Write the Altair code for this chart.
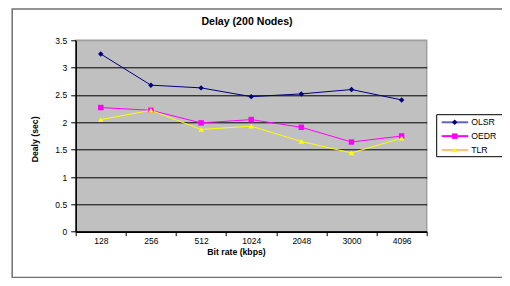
import altair as alt
import pandas as pd

rates = ["128", "256", "512", "1024", "2048", "3000", "4096"]
series = ["OLSR", "OEDR", "TLR"]
olsr = [3.25, 2.68, 2.63, 2.47, 2.52, 2.60, 2.41]
oedr = [2.27, 2.22, 1.99, 2.05, 1.91, 1.64, 1.75]
tlr = [2.05, 2.22, 1.87, 1.93, 1.65, 1.44, 1.71]
legend_labels = ["OLSR", "OEDR", "\u00a0TLR"]
y_ticks = [0, 0.5, 1, 1.5, 2, 2.5, 3, 3.5]

marker_colors = ["#000080", "#FF00FF", "#FFFF00"]
legend_line_colors = ["#6464B4", "#FF00FF", "#FFC080"]
shapes = ["diamond", "square", "triangle-up"]

rows = []
for name, vals in zip(series, [olsr, oedr, tlr]):
    for r, v in zip(rates, vals):
        rows.append({"rate": r, "series": name, "delay": v})
df = pd.DataFrame(rows)
leg_df = pd.DataFrame({"series": series, "label": legend_labels})

FONT = "Liberation Sans"

x_enc = alt.X(
    "rate:N",
    sort=rates,
    bandPosition=0.5,
    scale=alt.Scale(type="band", paddingInner=0, paddingOuter=0),
    axis=alt.Axis(
        title="Bit rate (kbps)",
        labelAngle=0,
        tickBand="extent",
        tickSize=4,
        tickColor="black",
        domainColor="black",
        domainWidth=1.5,
        labelFont=FONT,
        labelFontSize=8.5,
        labelColor="black",
        labelBaseline="alphabetic",
        labelPadding=7.7,
        titleFont=FONT,
        titleFontSize=8.7,
        titleFontWeight="bold",
        titleColor="black",
        titleX=160.3,
        titleY=23.2,
        titleBaseline="alphabetic",
        grid=False,
    ),
)
y_enc = alt.Y(
    "delay:Q",
    scale=alt.Scale(domain=[0, 3.5], nice=False, zero=True),
    axis=alt.Axis(
        title="Dealy (sec)",
        values=y_ticks,
        format="~g",
        tickSize=5,
        tickColor="black",
        domainColor="black",
        domainWidth=1.5,
        labelFont=FONT,
        labelFontSize=8.5,
        labelColor="black",
        labelPadding=4,
        gridColor={"condition": {"test": "datum.value >= 3.5", "value": "#A0A0A0"}, "value": "black"},
        gridWidth=1,
        titleFont=FONT,
        titleFontSize=8.7,
        titleFontWeight="bold",
        titleColor="black",
        titleX=-37.9,
        titleY=98.6,
        titleBaseline="alphabetic",
    ),
)
color_enc = alt.Color("series:N", scale=alt.Scale(domain=series, range=marker_colors), legend=None)
shape_enc = alt.Shape("series:N", scale=alt.Scale(domain=series, range=shapes), legend=None)

base = alt.Chart(df)
lines = base.mark_line(strokeWidth=1).encode(x=x_enc, y=y_enc, color=color_enc, detail="series:N")
points = base.mark_point(filled=True, size=30, opacity=1).encode(
    x=x_enc, y=y_enc, color=color_enc, shape=shape_enc
)
main = alt.layer(lines, points)

one = alt.Data(values=[{"k": 1}])
frame = alt.Chart(one).mark_rect(fill=None, stroke="#707070", strokeWidth=1.5).encode(
    x=alt.value(-63.5), x2=alt.value(480), y=alt.value(-31.3), y2=alt.value(237.3)
)
legend_box = alt.Chart(one).mark_rect(fill="white", stroke="black", strokeWidth=1).encode(
    x=alt.value(361), x2=alt.value(470), y=alt.value(74.4), y2=alt.value(116.4)
)

leg_y = alt.Y("series:N", sort=series, scale=alt.Scale(type="point", domain=series, range=[82, 109.7], padding=0), axis=None)
leg_base = alt.Chart(leg_df)
leg_rule = leg_base.mark_rule(strokeWidth=2).encode(
    x=alt.value(366), x2=alt.value(392.5), y=leg_y,
    stroke=alt.Stroke("series:N", scale=alt.Scale(domain=series, range=legend_line_colors), legend=None),
)
leg_pts = leg_base.mark_point(filled=True, size=30, opacity=1).encode(
    x=alt.value(379), y=leg_y,
    fill=alt.Fill("series:N", scale=alt.Scale(domain=series, range=marker_colors), legend=None),
    shape=alt.Shape("series:N", scale=alt.Scale(domain=series, range=shapes), legend=None),
)
leg_text = leg_base.mark_text(align="left", baseline="middle", font=FONT, fontSize=8.7, color="black").encode(
    x=alt.value(395.5), y=leg_y, text="label:N"
)
legend = alt.layer(leg_rule, leg_pts, leg_text)

chart = (
    alt.layer(frame, legend_box, main, legend)
    .resolve_scale(x="independent", y="independent", color="independent", shape="independent")
    .properties(
        width=351,
        height=191.4,
        padding={"left": 67.7, "top": 32.3, "right": 75.3, "bottom": 46.3},
        autosize=alt.AutoSizeParams(type="none"),
        background="white",
        title=alt.TitleParams(
            "Delay (200 Nodes)",
            font=FONT,
            fontSize=10.6,
            fontWeight="bold",
            color="black",
            anchor="middle",
            frame="group",
            dx=-4.2,
            offset=-27.7,
            baseline="alphabetic",
        ),
    )
    .configure_view(fill="#C0C0C0", stroke="#A0A0A0", strokeWidth=1.5)
)

chart.save("out.html", embed_options={"renderer": "svg", "actions": False})
